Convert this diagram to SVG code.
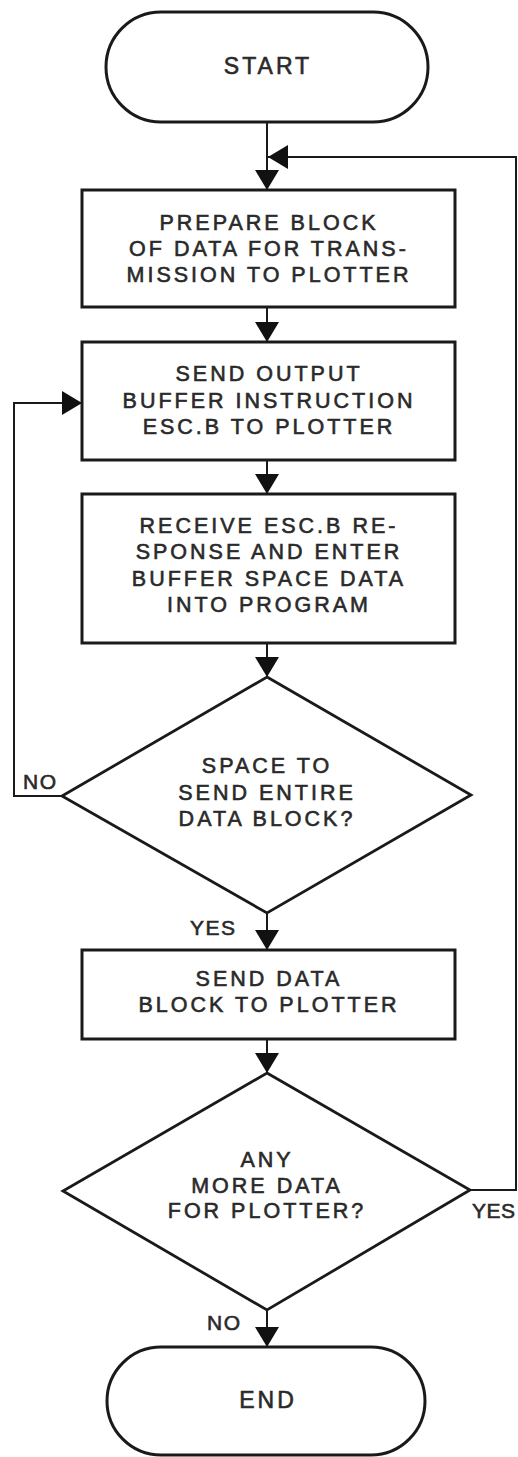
<svg xmlns="http://www.w3.org/2000/svg" width="518" height="1457" viewBox="0 0 518 1457">
<style>
.box{fill:#fff;stroke:#1a1a1a;stroke-width:3}
.dia{fill:#fff;stroke:#1a1a1a;stroke-width:2.8}
.conn{fill:none;stroke:#1a1a1a;stroke-width:2}
.t{font-family:"Liberation Sans",Arial,Helvetica,sans-serif;font-size:21.5px;fill:#2a2a2a;stroke:#2a2a2a;stroke-width:0.6px;text-anchor:middle;letter-spacing:3px}
.lbl{font-family:"Liberation Sans",Arial,Helvetica,sans-serif;font-size:21px;fill:#2a2a2a;stroke:#2a2a2a;stroke-width:0.6px;letter-spacing:1.5px}
</style>
<defs>
<marker id="ah" viewBox="0 0 20 24" refX="20" refY="12" markerWidth="20" markerHeight="24" markerUnits="userSpaceOnUse" orient="auto">
<path d="M0,0 L20,12 L0,24 Z" fill="#111"/>
</marker>
</defs>
<rect width="518" height="1457" fill="#fff"/>
<g id="connectors">
<path class="conn" d="M267,122 V190" marker-end="url(#ah)"/>
<path class="conn" d="M267,307 V342" marker-end="url(#ah)"/>
<path class="conn" d="M267,460 V494" marker-end="url(#ah)"/>
<path class="conn" d="M267,643 V677" marker-end="url(#ah)"/>
<path class="conn" d="M267,913 V950" marker-end="url(#ah)"/>
<path class="conn" d="M267,1039 V1073" marker-end="url(#ah)"/>
<path class="conn" d="M267,1310 V1347" marker-end="url(#ah)"/>
<path class="conn" d="M62,796 H14 V403 H82" marker-end="url(#ah)"/>
<path class="conn" d="M470,1190 H516 V157 H268" marker-end="url(#ah)"/>
</g>
<g id="start">
<rect class="box" x="106" y="12" width="322" height="110" rx="55" ry="55"/>
<text class="t" x="268" y="74" style="font-size:23px">START</text>
</g>
<g id="prepare">
<rect class="box" x="82" y="190" width="373" height="117"/>
<text class="t" x="269" y="230">PREPARE BLOCK</text>
<text class="t" x="269" y="256">OF DATA FOR TRANS-</text>
<text class="t" x="269" y="282">MISSION TO PLOTTER</text>
</g>
<g id="send-output">
<rect class="box" x="82" y="342" width="373" height="118"/>
<text class="t" x="269" y="381">SEND OUTPUT</text>
<text class="t" x="269" y="408">BUFFER INSTRUCTION</text>
<text class="t" x="269" y="434">ESC.B TO PLOTTER</text>
</g>
<g id="receive">
<rect class="box" x="82" y="494" width="373" height="149"/>
<text class="t" x="269" y="533">RECEIVE ESC.B RE-</text>
<text class="t" x="269" y="559">SPONSE AND ENTER</text>
<text class="t" x="269" y="586">BUFFER SPACE DATA</text>
<text class="t" x="269" y="612">INTO PROGRAM</text>
</g>
<g id="space-decision">
<polygon class="dia" points="267,677 471,795 267,913 62,796"/>
<text class="t" x="267" y="773">SPACE TO</text>
<text class="t" x="267" y="800">SEND ENTIRE</text>
<text class="t" x="267" y="826">DATA BLOCK?</text>
</g>
<g id="send-data">
<rect class="box" x="82" y="950" width="373" height="89"/>
<text class="t" x="269" y="986">SEND DATA</text>
<text class="t" x="269" y="1012">BLOCK TO PLOTTER</text>
</g>
<g id="more-decision">
<polygon class="dia" points="267,1073 470,1190 267,1310 63,1191"/>
<text class="t" x="267" y="1167">ANY</text>
<text class="t" x="267" y="1193">MORE DATA</text>
<text class="t" x="267" y="1218">FOR PLOTTER?</text>
</g>
<g id="end">
<rect class="box" x="107" y="1347" width="318" height="108" rx="54" ry="54"/>
<text class="t" x="268" y="1408" style="font-size:23px">END</text>
</g>
<g id="labels">
<text class="lbl" x="23" y="789">NO</text>
<text class="lbl" x="190" y="935">YES</text>
<text class="lbl" x="472" y="1218" style="letter-spacing:0.5px">YES</text>
<text class="lbl" x="207" y="1330">NO</text>
</g>
</svg>
